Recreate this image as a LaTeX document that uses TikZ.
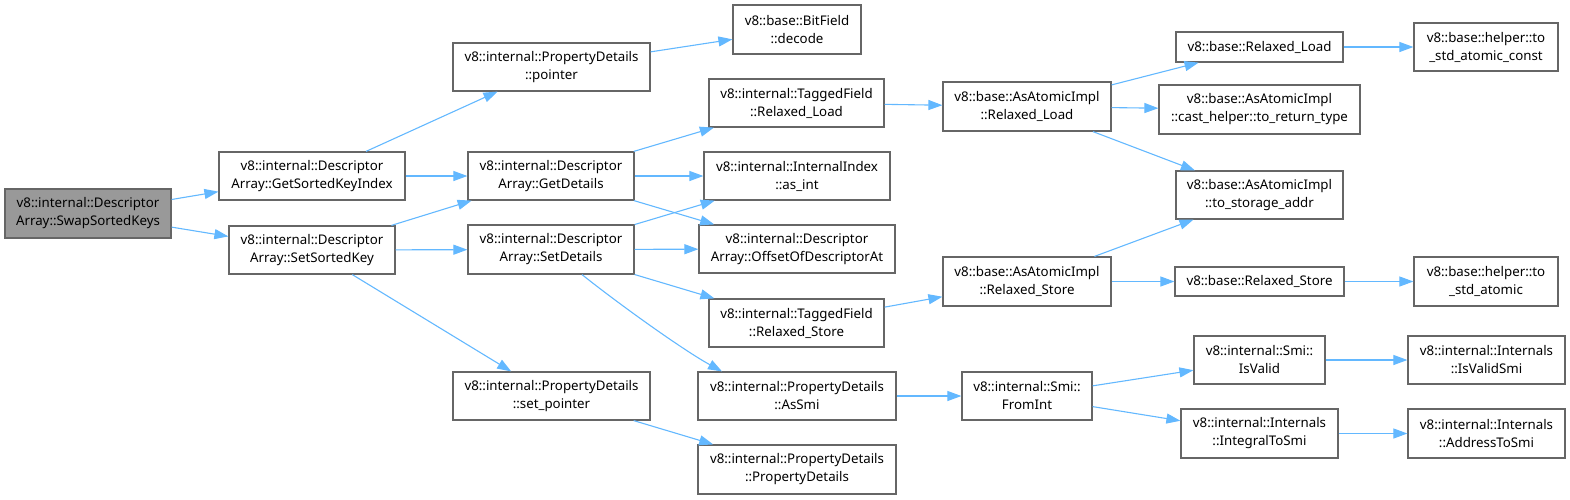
\documentclass[tikz,border=0pt]{standalone}
\usepackage{fontspec}
\setmainfont{Noto Sans}
\usetikzlibrary{arrows.meta}
\definecolor{boxgray}{HTML}{666666}
\definecolor{edgeblue}{HTML}{63B8FF}
\definecolor{rootfill}{HTML}{999999}
\begin{document}
\begin{tikzpicture}[x=1pt,y=-1pt,
  box/.style={draw=boxgray,line width=1.2pt,fill=white,inner sep=0pt,align=center,
    font=\fontsize{13.3}{18}\selectfont},
  root/.style={box,fill=rootfill},
  edge/.style={draw=edgeblue,line width=1.1pt,-{Triangle[length=14pt,width=10pt]}}]
\useasboundingbox (0,0) rectangle (1570,499);
% column 0
\node[root,minimum width=166,minimum height=49] (swap) at (88,213.5) {v8::internal::Descriptor\\Array::SwapSortedKeys};
% column 1
\node[box,minimum width=186,minimum height=48] (gski) at (312,176) {v8::internal::Descriptor\\Array::GetSortedKeyIndex};
\node[box,minimum width=166,minimum height=48] (ssk) at (312,250) {v8::internal::Descriptor\\Array::SetSortedKey};
% column 2
\node[box,minimum width=197,minimum height=48] (pointer) at (551.5,67) {v8::internal::PropertyDetails\\::pointer};
\node[box,minimum width=166,minimum height=48] (getdet) at (551,176) {v8::internal::Descriptor\\Array::GetDetails};
\node[box,minimum width=166,minimum height=49] (setdet) at (551,249.5) {v8::internal::Descriptor\\Array::SetDetails};
\node[box,minimum width=197,minimum height=48] (setptr) at (551.5,396) {v8::internal::PropertyDetails\\::set\_pointer};
% column 3
\node[box,minimum width=128,minimum height=49] (decode) at (797,29.5) {v8::base::BitField\\::decode};
\node[box,minimum width=175,minimum height=48] (tfload) at (796.5,103) {v8::internal::TaggedField\\::Relaxed\_Load};
\node[box,minimum width=186,minimum height=48] (asint) at (797,176) {v8::internal::InternalIndex\\::as\_int};
\node[box,minimum width=196,minimum height=48] (offset) at (797,249) {v8::internal::Descriptor\\Array::OffsetOfDescriptorAt};
\node[box,minimum width=175,minimum height=48] (tfstore) at (796.5,323) {v8::internal::TaggedField\\::Relaxed\_Store};
\node[box,minimum width=198,minimum height=48] (assmi) at (797,396) {v8::internal::PropertyDetails\\::AsSmi};
\node[box,minimum width=198,minimum height=49] (pdpd) at (797,469.5) {v8::internal::PropertyDetails\\::PropertyDetails};
% column 4
\node[box,minimum width=168,minimum height=49] (aaload) at (1027,106.5) {v8::base::AsAtomicImpl\\::Relaxed\_Load};
\node[box,minimum width=168,minimum height=49] (aastore) at (1027,281.5) {v8::base::AsAtomicImpl\\::Relaxed\_Store};
\node[box,minimum width=130,minimum height=48] (fromint) at (1027,396) {v8::internal::Smi::\\FromInt};
% column 5
\node[box,minimum width=167,minimum height=30] (bload) at (1259.5,47) {v8::base::Relaxed\_Load};
\node[box,minimum width=201,minimum height=49] (cast) at (1259.5,109.5) {v8::base::AsAtomicImpl\\::cast\_helper::to\_return\_type};
\node[box,minimum width=167,minimum height=48] (tsa) at (1259.5,195) {v8::base::AsAtomicImpl\\::to\_storage\_addr};
\node[box,minimum width=169,minimum height=29] (bstore) at (1259.5,281.5) {v8::base::Relaxed\_Store};
\node[box,minimum width=131,minimum height=48] (isvalid) at (1259.5,360) {v8::internal::Smi::\\IsValid};
\node[box,minimum width=157,minimum height=49] (integral) at (1259.5,433.5) {v8::internal::Internals\\::IntegralToSmi};
% column 6
\node[box,minimum width=144,minimum height=48] (stdconst) at (1486,47) {v8::base::helper::to\\\_std\_atomic\_const};
\node[box,minimum width=144,minimum height=49] (stdatomic) at (1486,281.5) {v8::base::helper::to\\\_std\_atomic};
\node[box,minimum width=157,minimum height=48] (isvalidsmi) at (1486.5,360) {v8::internal::Internals\\::IsValidSmi};
\node[box,minimum width=157,minimum height=49] (addr) at (1486.5,433.5) {v8::internal::Internals\\::AddressToSmi};
% edges
\draw[edge] (swap) -- (gski);
\draw[edge] (swap) -- (ssk);
\draw[edge] (gski) -- (pointer);
\draw[edge] (gski) -- (getdet);
\draw[edge] (ssk) -- (getdet);
\draw[edge] (ssk) -- (setdet);
\draw[edge] (ssk) -- (setptr);
\draw[edge] (pointer) -- (decode);
\draw[edge] (getdet) -- (tfload);
\draw[edge] (getdet) -- (asint);
\draw[edge] (getdet) -- (offset);
\draw[edge] (setdet) -- (asint);
\draw[edge] (setdet) -- (offset);
\draw[edge] (setdet) -- (tfstore);
\draw[edge] ([xshift=31pt]setdet.south) .. controls +(35,28) and +(-40,-22) .. ([xshift=-75pt]assmi.north);
\draw[edge] (setptr) -- (pdpd);
\draw[edge] (tfload) -- (aaload);
\draw[edge] (tfstore) -- (aastore);
\draw[edge] (assmi) -- (fromint);
\draw[edge] (aaload) -- (bload);
\draw[edge] (aaload) -- (cast);
\draw[edge] (aaload) -- (tsa);
\draw[edge] (aastore) -- (tsa);
\draw[edge] (aastore) -- (bstore);
\draw[edge] (bload) -- (stdconst);
\draw[edge] (bstore) -- (stdatomic);
\draw[edge] (fromint) -- (isvalid);
\draw[edge] (fromint) -- (integral);
\draw[edge] (isvalid) -- (isvalidsmi);
\draw[edge] (integral) -- (addr);
\end{tikzpicture}
\end{document}
